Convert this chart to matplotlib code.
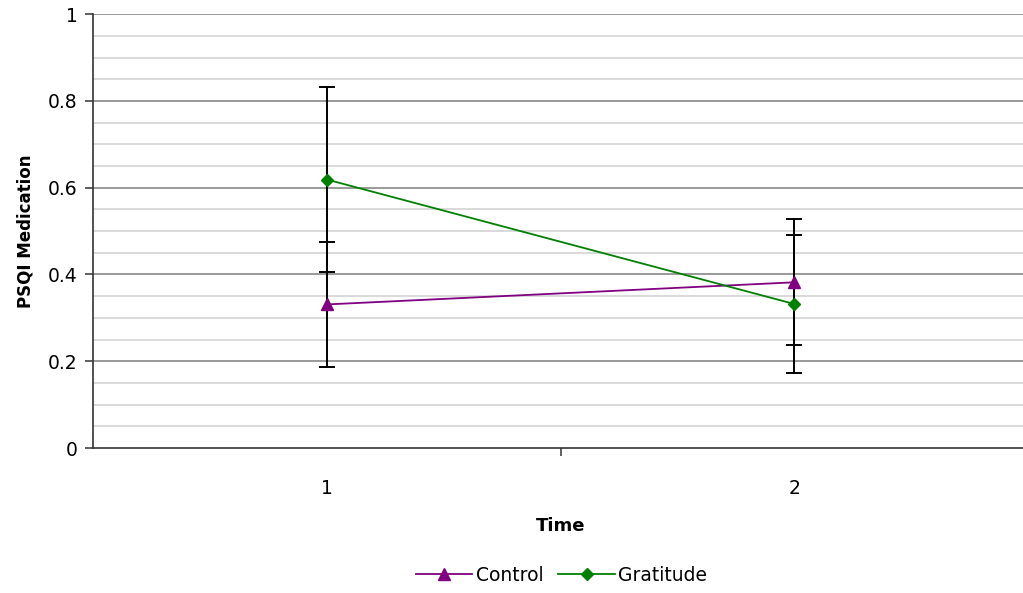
import numpy as np
import matplotlib
matplotlib.use("Agg")
import matplotlib.pyplot as plt
from matplotlib.ticker import FixedLocator

plt.rcParams['font.family'] = ['DejaVu Sans']
plt.rcParams['font.size'] = 13

# Data
times = [1, 2]
time_labels = ['1', '2']
control = [0.331, 0.382]
control_err = [0.145, 0.145]
gratitude = [0.619, 0.332]
gratitude_err = [0.214, 0.159]

fig = plt.figure(figsize=(10.23, 5.93), dpi=100)
ax = fig.add_axes([0.0909, 0.2445, 0.914, 0.7315])

# grid: major every 0.2 darker, minor every 0.05 lighter
for v in np.arange(0.05, 1.001, 0.05):
    major = abs(v / 0.2 - round(v / 0.2)) < 1e-6
    ax.axhline(v, color='#878787' if major else '#d3d3d3', lw=1.2, zorder=0)

ax.errorbar(times, gratitude, yerr=gratitude_err, fmt='none', ecolor='black',
            elinewidth=1.4, capsize=6, capthick=1.4, zorder=2)
ax.errorbar(times, control, yerr=control_err, fmt='none', ecolor='black',
            elinewidth=1.4, capsize=6, capthick=1.4, zorder=2)
ax.plot(times, control, color='#800080', marker='^', markersize=8, lw=1.3,
        label='Control', zorder=3)
ax.plot(times, gratitude, color='#008000', marker='D', markersize=6.5, lw=1.3,
        label='Gratitude', zorder=3)

ax.set_xlim(0.5, 2.5)
ax.set_ylim(0, 1)
ax.set_yticks([0, 0.2, 0.4, 0.6, 0.8, 1.0])
ax.set_yticklabels(['0', '0.2', '0.4', '0.6', '0.8', '1'], fontsize=13.5)
ax.set_xticks(times)
ax.set_xticklabels(time_labels, fontsize=13.5)
ax.tick_params(axis='x', which='major', length=0, pad=22)
ax.xaxis.set_minor_locator(FixedLocator([1.5]))
ax.tick_params(axis='x', which='minor', length=6, width=1.2, direction='out', color='#444444')
ax.tick_params(axis='y', length=6, width=1.2, direction='out', color='#444444', pad=5)

for s in ['top', 'right']:
    ax.spines[s].set_visible(False)
for s in ['left', 'bottom']:
    ax.spines[s].set_color('#333333')
    ax.spines[s].set_linewidth(1.2)

ax.set_ylabel('PSQI Medication', fontweight='bold', fontsize=12, labelpad=10)
ax.set_xlabel('Time', fontweight='bold', fontsize=13, labelpad=14)

fig.legend(loc='lower center', bbox_to_anchor=(0.549, -0.015), ncol=2, frameon=False,
           fontsize=13.5, handlelength=3.0, columnspacing=0.8, handletextpad=0.2)

fig.savefig('out.png', dpi=100)
